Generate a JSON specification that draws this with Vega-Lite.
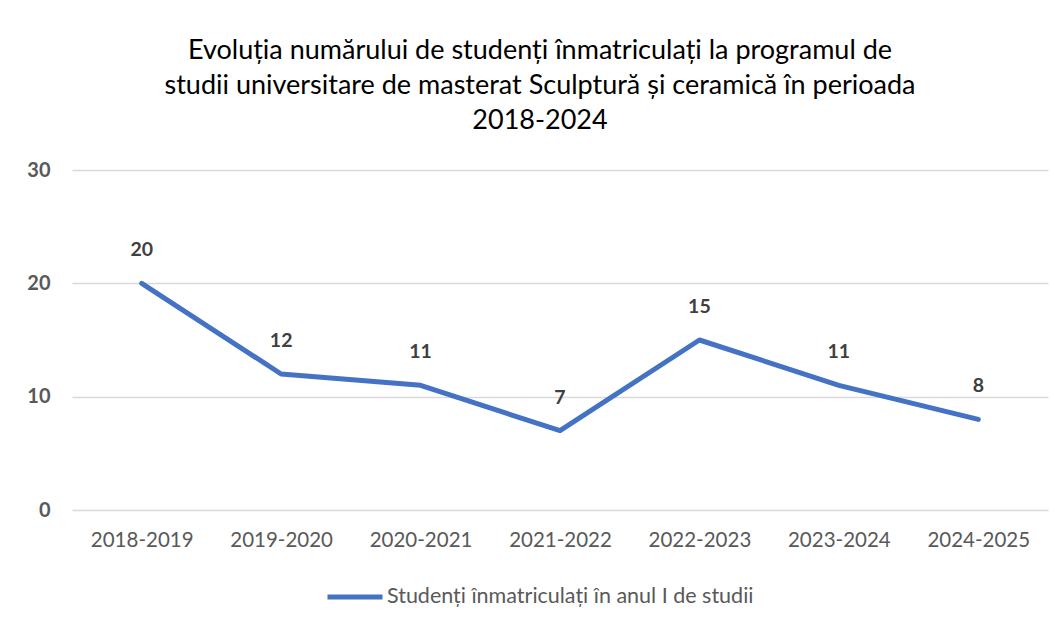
{
  "$schema": "https://vega.github.io/schema/vega-lite/v6.json",
  "autosize": {"type": "none"},
  "width": 976,
  "height": 340,
  "padding": {"left": 72, "top": 170, "right": 16, "bottom": 118},
  "background": "white",
  "title": {
    "text": ["Evoluția numărului de studenți înmatriculați la programul de", "studii universitare de masterat Sculptură și ceramică în perioada", "2018-2024"],
    "fontSize": 27,
    "fontWeight": "normal",
    "font": "Lato",
    "color": "#000000",
    "lineHeight": 35,
    "anchor": "middle",
    "dx": -20,
    "offset": 25
  },
  "data": {
    "values": [
      {"an": "2018-2019", "valoare": 20, "serie": "Studenți înmatriculați în anul I de studii"},
      {"an": "2019-2020", "valoare": 12, "serie": "Studenți înmatriculați în anul I de studii"},
      {"an": "2020-2021", "valoare": 11, "serie": "Studenți înmatriculați în anul I de studii"},
      {"an": "2021-2022", "valoare": 7, "serie": "Studenți înmatriculați în anul I de studii"},
      {"an": "2022-2023", "valoare": 15, "serie": "Studenți înmatriculați în anul I de studii"},
      {"an": "2023-2024", "valoare": 11, "serie": "Studenți înmatriculați în anul I de studii"},
      {"an": "2024-2025", "valoare": 8, "serie": "Studenți înmatriculați în anul I de studii"}
    ]
  },
  "encoding": {
    "x": {
      "field": "an", "type": "ordinal", "sort": null,
      "scale": {"paddingInner": 0, "paddingOuter": 0, "align": 0.5},
      "axis": {"title": null, "labelAngle": 0, "ticks": false, "domain": false, "labelFontSize": 20.5, "labelFont": "Lato", "labelColor": "#595959", "labelPadding": 20, "grid": false}
    },
    "y": {
      "field": "valoare", "type": "quantitative",
      "scale": {"domain": [0, 30], "nice": false},
      "axis": {"title": null, "values": [0, 10, 20, 30], "ticks": false, "domain": false, "labelFontSize": 20, "labelFontWeight": "bold", "labelFont": "Lato", "labelColor": "#595959", "labelPadding": 22, "gridColor": "#d9d9d9", "gridWidth": 1.3}
    }
  },
  "layer": [
    {
      "mark": {"type": "line", "strokeWidth": 5, "strokeCap": "round", "strokeJoin": "round"},
      "encoding": {
        "color": {
          "field": "serie", "type": "nominal",
          "scale": {"range": ["#4472C4"]},
          "legend": {"title": null, "orient": "none", "legendX": 253, "legendY": 397, "direction": "horizontal", "labelFontSize": 21.5, "labelFont": "Lato", "labelColor": "#595959", "symbolType": "stroke", "symbolStrokeWidth": 5, "symbolSize": 3025, "labelOffset": 2, "labelLimit": 700}
        }
      }
    },
    {
      "mark": {"type": "text", "dy": -33, "fontSize": 19.5, "fontWeight": "bold", "font": "Lato", "color": "#404040"},
      "encoding": {"text": {"field": "valoare", "type": "quantitative"}}
    }
  ],
  "config": {"view": {"stroke": null}}
}
